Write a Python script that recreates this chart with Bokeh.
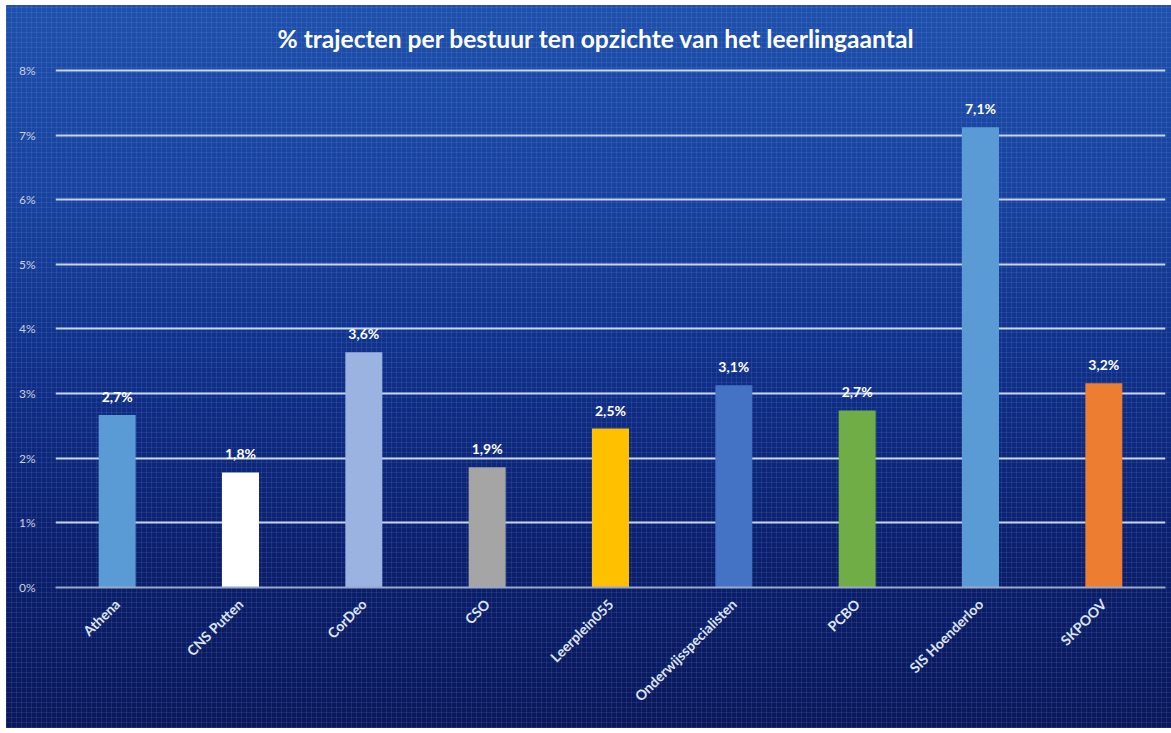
from bokeh.plotting import figure
from bokeh.models import ColumnDataSource, Range1d, FactorRange, FixedTicker, Title, LabelSet
from bokeh.embed import file_html
from bokeh.resources import INLINE
from bokeh.core.properties import value
import math

categories = ["Athena", "CNS Putten", "CorDeo", "CSO", "Leerplein055",
              "Onderwijsspecialisten", "PCBO", "SIS Hoenderloo", "SKPOOV"]
values = [2.67, 1.78, 3.64, 1.86, 2.46, 3.13, 2.74, 7.12, 3.16]
bar_colors = ["#5b9bd5", "#ffffff", "#9bb3e0", "#a5a5a5", "#ffc000",
              "#4472c4", "#70ad47", "#5b9bd5", "#ed7d31"]
y_ticks = [0, 1, 2, 3, 4, 5, 6, 7, 8]
y_tick_labels = ["0%", "1%", "2%", "3%", "4%", "5%", "6%", "7%", "8%"]
title_text = "% trajecten per bestuur ten opzichte van het leerlingaantal"

labels = [f"{v:.1f}".replace(".", ",") + "%" for v in values]
src = ColumnDataSource(dict(cat=categories, val=values, color=bar_colors, lab=labels))

p = figure(width=1165, height=723, x_range=FactorRange(*categories, range_padding=0),
           y_range=Range1d(0, 8.03), output_backend="svg", toolbar_location=None,
           min_border_left=49, min_border_right=6, min_border_top=63, min_border_bottom=141)

p.styles = {
    "margin-left": "6px",
    "margin-top": "5px",
    "background": (
        "repeating-linear-gradient(0deg, rgba(160,190,255,0.11) 0px, rgba(160,190,255,0.11) 1px, transparent 1px, transparent 5px),"
        "repeating-linear-gradient(90deg, rgba(160,190,255,0.11) 0px, rgba(160,190,255,0.11) 1px, transparent 1px, transparent 5px),"
        "linear-gradient(180deg, #1e50ac 0%, #17419c 28%, #0f2e86 52%, #0b1f6c 76%, #0a185a 100%)"
    )
}
p.background_fill_alpha = 0
p.border_fill_alpha = 0
p.outline_line_color = None

p.vbar(x="cat", top="val", width=0.3, source=src, fill_color="color", line_color=None)

p.add_layout(LabelSet(x="cat", y="val", text="lab", source=src, text_align="center",
                      text_baseline="bottom", y_offset=10, text_color="#ffffff",
                      text_font_size="14px", text_font_style="bold",
                      text_font=value("Lato")))

t = Title(text=title_text, align="left", text_color="#ffffff", text_font_size="24.6px",
          text_font_style="bold", text_font="Lato", offset=222, standoff=32)
p.add_layout(t, "above")

p.xgrid.grid_line_color = None
p.ygrid.grid_line_color = "#c5d5f2"
p.ygrid.grid_line_width = 2
p.ygrid.ticker = FixedTicker(ticks=y_ticks)

p.yaxis.ticker = FixedTicker(ticks=y_ticks)
p.yaxis.major_label_overrides = {t_: l for t_, l in zip(y_ticks, y_tick_labels)}
p.yaxis.axis_line_color = None
p.yaxis.major_tick_line_color = None
p.yaxis.minor_tick_line_color = None
p.yaxis.major_label_text_color = "#c8d0e0"
p.yaxis.major_label_text_font = "Lato"
p.yaxis.major_label_text_font_size = "12px"
p.yaxis.major_label_standoff = 14

p.xaxis.axis_line_color = "#9aa8cc"
p.xaxis.axis_line_width = 2
p.xaxis.major_tick_line_color = None
p.xaxis.minor_tick_line_color = None
p.xaxis.major_label_orientation = math.pi / 4
p.xaxis.major_label_text_color = "#dde4f2"
p.xaxis.major_label_text_font = "Lato"
p.xaxis.major_label_text_font_style = "bold"
p.xaxis.major_label_text_font_size = "14px"
p.xaxis.major_label_standoff = 8

open("out.html", "w").write(file_html(p, INLINE))
